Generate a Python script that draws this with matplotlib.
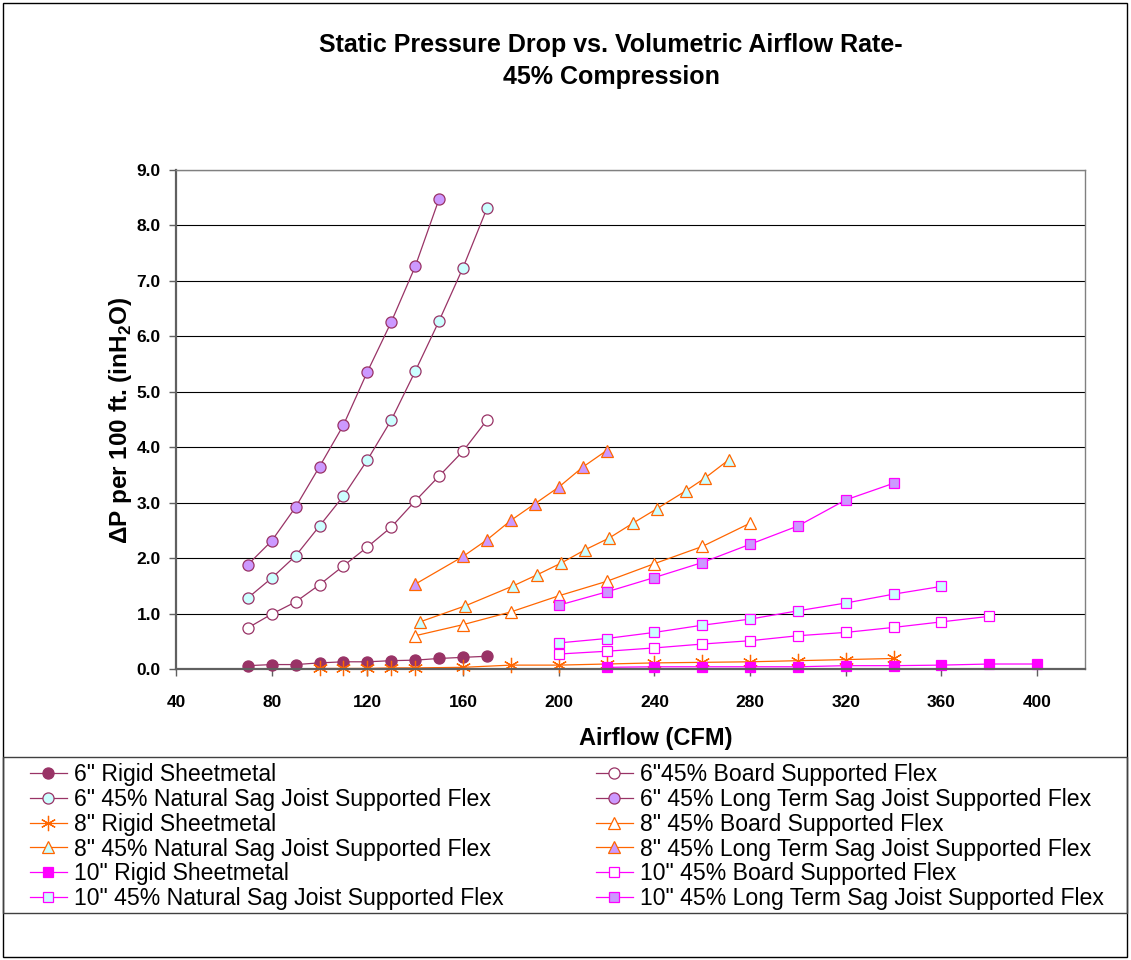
import matplotlib
matplotlib.use("Agg")
import matplotlib.pyplot as plt
from matplotlib.patches import Rectangle

plt.rcParams['font.family'] = ['Liberation Sans', 'DejaVu Sans']
plt.rcParams['mathtext.fontset'] = 'custom'
plt.rcParams['mathtext.rm'] = 'Liberation Sans'
plt.rcParams['mathtext.bf'] = 'Liberation Sans:bold'

# 6" duct
cfm_6 = [70, 80, 90, 100, 110, 120, 130, 140, 150, 160, 170]
rigid_6 = [0.06, 0.08, 0.08, 0.11, 0.13, 0.13, 0.15, 0.16, 0.19, 0.21, 0.23]
board_6 = [0.74, 0.99, 1.21, 1.52, 1.86, 2.20, 2.56, 3.03, 3.48, 3.93, 4.49]
natural_6 = [1.28, 1.64, 2.04, 2.58, 3.12, 3.77, 4.49, 5.37, 6.28, 7.24, 8.31]
cfm_6_long = [70, 80, 90, 100, 110, 120, 130, 140, 150]
long_6 = [1.88, 2.31, 2.92, 3.65, 4.40, 5.36, 6.26, 7.26, 8.48]

# 8" duct
cfm_8_rigid = [100, 110, 120, 130, 140, 160, 180, 200, 220, 240, 260, 280, 300, 320, 340]
rigid_8 = [0.01, 0.01, 0.01, 0.02, 0.02, 0.03, 0.07, 0.07, 0.09, 0.11, 0.12, 0.13, 0.15, 0.17, 0.19]
cfm_8_board = [140, 160, 180, 200, 220, 240, 260, 280]
board_8 = [0.60, 0.80, 1.03, 1.32, 1.58, 1.90, 2.21, 2.63]
cfm_8_natural = [142, 161, 181, 191, 201, 211, 221, 231, 241, 253, 261, 271]
natural_8 = [0.85, 1.14, 1.50, 1.70, 1.91, 2.15, 2.36, 2.63, 2.89, 3.21, 3.44, 3.77]
cfm_8_long = [140, 160, 170, 180, 190, 200, 210, 220]
long_8 = [1.53, 2.03, 2.33, 2.68, 2.98, 3.28, 3.64, 3.94]

# 10" duct
cfm_10_rigid = [220, 240, 260, 280, 300, 320, 340, 360, 380, 400]
rigid_10 = [0.03, 0.04, 0.04, 0.04, 0.04, 0.06, 0.06, 0.07, 0.09, 0.09]
cfm_10_board = [200, 220, 240, 260, 280, 300, 320, 340, 360, 380]
board_10 = [0.27, 0.32, 0.38, 0.45, 0.51, 0.60, 0.66, 0.75, 0.85, 0.95]
cfm_10_natural = [200, 220, 240, 260, 280, 300, 320, 340, 360]
natural_10 = [0.47, 0.55, 0.66, 0.79, 0.90, 1.05, 1.19, 1.35, 1.49]
cfm_10_long = [200, 220, 240, 260, 280, 300, 320, 340]
long_10 = [1.15, 1.39, 1.65, 1.92, 2.25, 2.58, 3.05, 3.35]

PLUM = "#993366"
ORANGE = "#FF6600"
MAGENTA = "#FF00FF"
LAVENDER = "#CC99FF"
AQUA = "#CCFFFF"

fig = plt.figure(figsize=(11.31, 9.6), dpi=100)
ax = fig.add_axes([176 / 1131, 1 - 669 / 960, (1085 - 176) / 1131, (669 - 170) / 960])

def serie(x, y, color, marker, face, label, ms=8):
    line, = ax.plot(x, y, color=color, lw=0.9, marker=marker, markersize=ms,
                    markerfacecolor=face, markeredgecolor=color, markeredgewidth=0.9,
                    label=label, clip_on=False)
    return line

h = {}
h['6r'] = serie(cfm_6, rigid_6, PLUM, 'o', PLUM, '6" Rigid Sheetmetal')
h['6b'] = serie(cfm_6, board_6, PLUM, 'o', 'white', '6"45% Board Supported Flex')
h['6n'] = serie(cfm_6, natural_6, PLUM, 'o', AQUA, '6" 45% Natural Sag Joist Supported Flex')
h['6l'] = serie(cfm_6_long, long_6, PLUM, 'o', LAVENDER, '6" 45% Long Term Sag Joist Supported Flex')
h['8r'] = serie(cfm_8_rigid, rigid_8, ORANGE, (6, 2, 0), ORANGE, '8" Rigid Sheetmetal', ms=11)
h['8b'] = serie(cfm_8_board, board_8, ORANGE, '^', 'white', '8" 45% Board Supported Flex')
h['8n'] = serie(cfm_8_natural, natural_8, ORANGE, '^', AQUA, '8" 45% Natural Sag Joist Supported Flex')
h['8l'] = serie(cfm_8_long, long_8, ORANGE, '^', LAVENDER, '8" 45% Long Term Sag Joist Supported Flex')
h['10r'] = serie(cfm_10_rigid, rigid_10, MAGENTA, 's', MAGENTA, '10" Rigid Sheetmetal', ms=7.5)
h['10b'] = serie(cfm_10_board, board_10, MAGENTA, 's', 'white', '10" 45% Board Supported Flex', ms=7.5)
h['10n'] = serie(cfm_10_natural, natural_10, MAGENTA, 's', AQUA, '10" 45% Natural Sag Joist Supported Flex', ms=7.5)
h['10l'] = serie(cfm_10_long, long_10, MAGENTA, 's', LAVENDER, '10" 45% Long Term Sag Joist Supported Flex', ms=7.5)

ax.set_xlim(40, 420)
ax.set_ylim(0, 9)
ax.set_xticks(range(40, 401, 40))
ax.set_yticks(range(0, 10))
ax.set_yticklabels([f"{v:.1f}" for v in range(0, 10)])
ax.yaxis.grid(True, color='black', lw=0.8)
ax.set_axisbelow(True)
ax.tick_params(direction='out', length=5, width=1, color='#606060',
               labelsize=12.5, pad=14)
ax.tick_params(axis='y', pad=6)
for lbl in ax.get_xticklabels() + ax.get_yticklabels():
    lbl.set_fontweight('bold')
for side in ['left', 'bottom']:
    ax.spines[side].set_color('#606060')
    ax.spines[side].set_linewidth(1.6)
for side in ['top', 'right']:
    ax.spines[side].set_color('#808080')
    ax.spines[side].set_linewidth(1.0)

fig.text(611 / 1131, 1 - 61 / 960,
         "Static Pressure Drop vs. Volumetric Airflow Rate-\n45% Compression",
         ha='center', va='center', fontsize=18, fontweight='bold', linespacing=1.4)
fig.text(656 / 1131, 1 - 738 / 960, "Airflow (CFM)", ha='center', va='center',
         fontsize=17, fontweight='bold')
fig.text(121 / 1131, 1 - 421 / 960, r"ΔP per 100 ft. (inH$_\mathbf{2}$O)", ha='center',
         va='center', rotation=90, fontsize=17.5, fontweight='bold')

# legend in two columns
left = [h['6r'], h['6n'], h['8r'], h['8n'], h['10r'], h['10n']]
right = [h['6b'], h['6l'], h['8b'], h['8l'], h['10b'], h['10l']]
common = dict(loc='upper left', frameon=False, fontsize=16.6, handlelength=1.6,
              handletextpad=0.3, labelspacing=0.08, borderpad=0, borderaxespad=0)
fig.legend(handles=left, bbox_to_anchor=(30 / 1131, 1 - 763 / 960), **common)
fig.legend(handles=right, bbox_to_anchor=(596 / 1131, 1 - 763 / 960), **common)

# chart frame and legend box
fig.patches.append(Rectangle((3 / 1131, 1 - 957 / 960), 1124 / 1131, 954 / 960,
                             transform=fig.transFigure, fill=False, ec='black', lw=1))
fig.patches.append(Rectangle((3 / 1131, 1 - 913 / 960), 1124 / 1131, 156 / 960,
                             transform=fig.transFigure, fill=False, ec='#404040', lw=1))

fig.savefig("out.png", dpi=100)
